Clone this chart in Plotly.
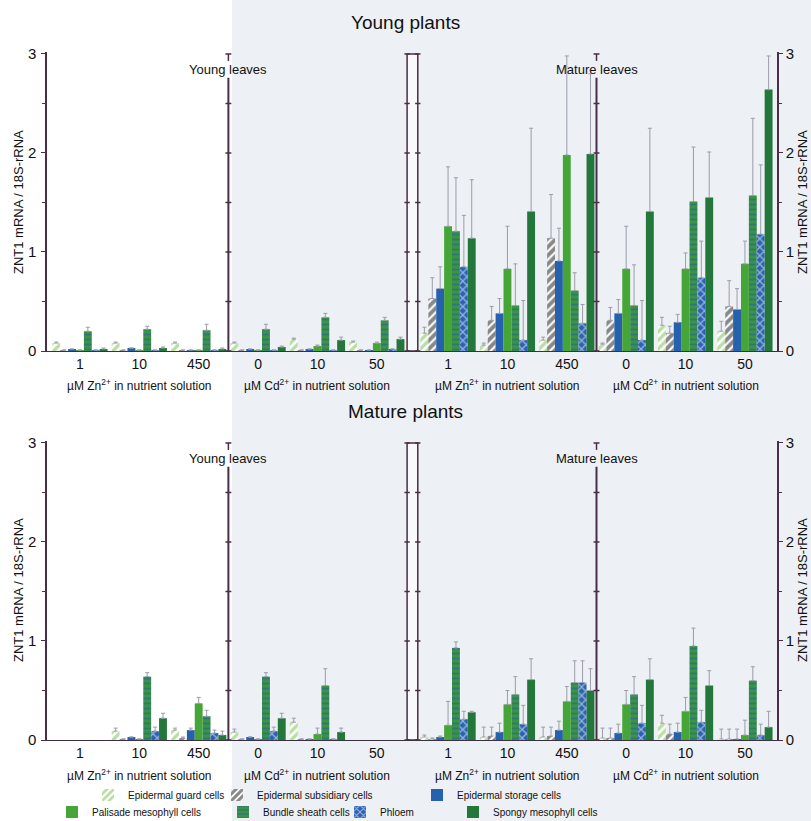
import plotly.graph_objects as go

# ---------------- data ----------------
GROUP_LABELS = ["1", "10", "450", "0", "10", "50", "1", "10", "450", "0", "10", "50"]
CONC_LABELS = ["µM Zn<sup>2+</sup> in nutrient solution", "µM Cd<sup>2+</sup> in nutrient solution",
               "µM Zn<sup>2+</sup> in nutrient solution", "µM Cd<sup>2+</sup> in nutrient solution"]
SERIES = ["Epidermal guard cells", "Epidermal subsidiary cells", "Epidermal storage cells",
          "Palisade mesophyll cells", "Bundle sheath cells", "Phloem", "Spongy mesophyll cells"]

# Young plants (top row): young leaves Zn(1,10,450), Cd(0,10,50); mature leaves Zn, Cd
YP_GUARD = [0.08, 0.08, 0.08, 0.08, 0.12, 0.09, 0.18, 0.06, 0.11, 0.07, 0.26, 0.20]
YP_GUARD_ERR = [0.01, 0.01, 0.01, 0.01, 0.01, 0.01, 0.06, 0.02, 0.03, 0.01, 0.08, 0.10]
YP_SUBS = [0.01, 0.01, 0.01, 0.01, 0.01, 0.01, 0.53, 0.31, 1.14, 0.31, 0.18, 0.45]
YP_SUBS_ERR = [0, 0, 0, 0, 0, 0, 0.21, 0.14, 0.44, 0.13, 0.07, 0.26]
YP_STOR = [0.02, 0.03, 0.01, 0.02, 0.02, 0.01, 0.63, 0.38, 0.91, 0.38, 0.29, 0.42]
YP_STOR_ERR = [0, 0, 0, 0, 0, 0, 0.22, 0.15, 0.33, 0.14, 0.08, 0.21]
YP_PALI = [0.01, 0.01, 0.01, 0.01, 0.05, 0.08, 1.26, 0.83, 1.98, 0.83, 0.83, 0.88]
YP_PALI_ERR = [0, 0, 0, 0, 0.01, 0.01, 0.60, 0.43, 1.00, 0.43, 0.16, 0.23]
YP_BUND = [0.20, 0.22, 0.21, 0.22, 0.34, 0.31, 1.21, 0.46, 0.61, 0.46, 1.51, 1.57]
YP_BUND_ERR = [0.04, 0.03, 0.06, 0.05, 0.04, 0.03, 0.54, 0.42, 0.18, 0.41, 0.55, 0.78]
YP_PHLO = [0.01, 0.01, 0.01, 0.01, 0.01, 0.02, 0.85, 0.11, 0.28, 0.11, 0.74, 1.18]
YP_PHLO_ERR = [0, 0, 0, 0, 0, 0, 0.52, 0.40, 0.19, 0.40, 0.37, 0.70]
YP_SPON = [0.02, 0.03, 0.02, 0.04, 0.11, 0.12, 1.14, 1.41, 1.99, 1.41, 1.55, 2.64]
YP_SPON_ERR = [0.01, 0.01, 0.01, 0.01, 0.03, 0.02, 0.59, 0.84, 0.81, 0.84, 0.46, 0.34]

# Mature plants (bottom row)
MP_GUARD = [None, 0.09, 0.10, 0.08, 0.18, None, 0.03, 0.03, 0.03, 0.02, 0.17, 0.01]
MP_GUARD_ERR = [None, 0.03, 0.02, 0.03, 0.04, None, 0.02, 0.10, 0.10, 0.10, 0.08, 0.10]
MP_SUBS = [None, 0.01, 0.02, 0.01, 0.01, None, 0.01, 0.04, 0.04, 0.02, 0.06, 0.01]
MP_SUBS_ERR = [None, 0, 0.01, 0, 0, None, 0.01, 0.09, 0.09, 0.10, 0.10, 0.10]
MP_STOR = [None, 0.03, 0.10, 0.03, 0.01, None, 0.03, 0.08, 0.10, 0.07, 0.08, 0.01]
MP_STOR_ERR = [None, 0, 0.02, 0, 0, None, 0.01, 0.09, 0.09, 0.09, 0.09, 0.10]
MP_PALI = [None, 0.01, 0.37, 0.01, 0.06, None, 0.15, 0.36, 0.39, 0.36, 0.29, 0.05]
MP_PALI_ERR = [None, 0, 0.06, 0, 0.06, None, 0.24, 0.14, 0.15, 0.14, 0.14, 0.15]
MP_BUND = [None, 0.64, 0.24, 0.64, 0.55, None, 0.93, 0.46, 0.58, 0.46, 0.95, 0.60]
MP_BUND_ERR = [None, 0.04, 0.06, 0.04, 0.17, None, 0.06, 0.18, 0.22, 0.18, 0.18, 0.14]
MP_PHLO = [None, 0.09, 0.07, 0.09, 0.01, None, 0.21, 0.16, 0.58, 0.17, 0.18, 0.05]
MP_PHLO_ERR = [None, 0.04, 0.03, 0.04, 0, None, 0.08, 0.19, 0.22, 0.18, 0.12, 0.11]
MP_SPON = [None, 0.22, 0.05, 0.22, 0.08, None, 0.28, 0.61, 0.50, 0.61, 0.55, 0.13]
MP_SPON_ERR = [None, 0.05, 0.04, 0.05, 0.04, None, 0.01, 0.21, 0.22, 0.21, 0.15, 0.16]

ROWS = [
    [(YP_GUARD, YP_GUARD_ERR), (YP_SUBS, YP_SUBS_ERR), (YP_STOR, YP_STOR_ERR), (YP_PALI, YP_PALI_ERR),
     (YP_BUND, YP_BUND_ERR), (YP_PHLO, YP_PHLO_ERR), (YP_SPON, YP_SPON_ERR)],
    [(MP_GUARD, MP_GUARD_ERR), (MP_SUBS, MP_SUBS_ERR), (MP_STOR, MP_STOR_ERR), (MP_PALI, MP_PALI_ERR),
     (MP_BUND, MP_BUND_ERR), (MP_PHLO, MP_PHLO_ERR), (MP_SPON, MP_SPON_ERR)],
]

# ---------------- styles ----------------
FONT = "Arial, Liberation Sans, sans-serif"
NARROW = "Liberation Sans Narrow, Arial Narrow, Liberation Sans, Arial, sans-serif"
AXC = "#4a2d48"
STYLES = [
    dict(color="#ffffff", pattern=dict(shape="/", fgcolor="#74bd45", bgcolor="#ffffff", size=6, solidity=0.55)),
    dict(color="#ffffff", pattern=dict(shape="/", fgcolor="#111111", bgcolor="#ffffff", size=6, solidity=0.65)),
    dict(color="#2561ad"),
    dict(color="#46a537"),
    dict(color="#3a9444", pattern=dict(shape="-", fgcolor="#2458aa", bgcolor="#3a9444", size=5, solidity=0.35)),
    dict(color="#2a63b4", pattern=dict(shape="x", fgcolor="#ffffff", bgcolor="#2a63b4", size=6, solidity=0.4)),
    dict(color="#23773a"),
]
LEG_POS = [(88, 795), (217, 795), (417, 795), (52, 812), (223, 812), (340, 812), (453, 812)]

W, H = 811, 821
pos = [i + (0.2 if i >= 6 else 0.0) for i in range(12)]
XR = [-0.555, 11.74]

fig = go.Figure()
for r, row in enumerate(ROWS):
    xa = "x" if r == 0 else "x2"
    ya = "y" if r == 0 else "y2"
    for s, (vals, errs) in enumerate(row):
        st = STYLES[s]
        mk = dict(color=st["color"], line=dict(width=0))
        if "pattern" in st:
            mk["pattern"] = st["pattern"]
        fig.add_trace(go.Bar(
            x=pos, y=vals, name=SERIES[s], marker=mk, xaxis=xa, yaxis=ya,
            showlegend=(r == 0), legend=("legend" if s == 0 else f"legend{s+1}"),
            error_y=dict(type="data", array=errs, arrayminus=[0] * 12, symmetric=False,
                         color="#9c9cab", thickness=1, width=2),
        ))

# ---------------- layout ----------------
xd = [47 / W, 777 / W]
yd1 = [1 - 351 / H, 1 - 52 / H]
yd2 = [1 - 740 / H, 1 - 441 / H]

def xaxis(anchor):
    return dict(domain=xd, range=XR, anchor=anchor, showgrid=False, zeroline=False,
                showline=True, linecolor="#3b3040", linewidth=1.2, ticks="",
                tickvals=pos, ticktext=GROUP_LABELS, tickfont=dict(family=FONT, size=14, color="#111"))

def yaxis(domain, anchor, side="left", overlay=None):
    d = dict(domain=domain, range=[0, 3.02], anchor=anchor, side=side, showgrid=False, zeroline=False,
             showline=True, linecolor=AXC, linewidth=1.5, ticks="outside", ticklen=4, tickcolor=AXC,
             tickvals=[0, 1, 2, 3], tickfont=dict(family=FONT, size=15, color="#111"),
             minor=dict(ticks="outside", dtick=0.5, ticklen=3, tickcolor=AXC),
             ticklabelstandoff=(2 if side == "left" else 0))
    if overlay:
        d["overlaying"] = overlay
    return d

layout = dict(
    width=W, height=H, margin=dict(l=0, r=0, t=0, b=0, autoexpand=False),
    paper_bgcolor="#ffffff", plot_bgcolor="rgba(0,0,0,0)",
    barmode="group", bargap=0.07, bargroupgap=0,
    xaxis=xaxis("y"), xaxis2=xaxis("y2"),
    yaxis=yaxis(yd1, "x"), yaxis2=yaxis(yd2, "x2"),
    yaxis3=yaxis(yd1, "x", "right", "y"), yaxis4=yaxis(yd2, "x2", "right", "y2"),
    font=dict(family=FONT, color="#111"),
)
for s, (lx, ly) in enumerate(LEG_POS):
    key = "legend" if s == 0 else f"legend{s+1}"
    layout[key] = dict(x=lx / W, y=1 - ly / H, xanchor="left", yanchor="middle",
                       bgcolor="rgba(0,0,0,0)", borderwidth=0, orientation="h",
                       font=dict(family=NARROW, size=10, color="#111"))
fig.update_layout(**layout)

# phantom traces so right-hand axes are drawn
for ya, xa in (("y3", "x"), ("y4", "x2")):
    fig.add_trace(go.Scatter(x=[None], y=[None], xaxis=xa, yaxis=ya, showlegend=False, hoverinfo="skip"))

shapes = []
# scanned-page tint
shapes.append(dict(type="rect", xref="paper", yref="paper", x0=232 / W, x1=1, y0=0, y1=1,
                   fillcolor="#edf0f4", line=dict(width=0), layer="below"))
young_div = (pos[2] + pos[3]) / 2
mid_div = (pos[5] + pos[6]) / 2
mature_div = (pos[8] + pos[9]) / 2
ticks_y = [0.5 * k for k in range(7)]
for r in range(2):
    xa = "x" if r == 0 else "x2"
    ya = "y" if r == 0 else "y2"
    for dx in (young_div, mature_div):
        shapes.append(dict(type="line", xref=xa, yref=ya, x0=dx, x1=dx, y0=0, y1=2.76,
                           line=dict(color=AXC, width=2)))
        shapes.append(dict(type="line", xref=xa, yref=ya, x0=dx, x1=dx, y0=2.93, y1=3,
                           line=dict(color=AXC, width=1.5)))
        shapes.append(dict(type="line", xref=xa, yref=ya, x0=dx - 0.05, x1=dx + 0.05, y0=3, y1=3,
                           line=dict(color=AXC, width=1.5)))
        for ty in ticks_y[:-1]:
            shapes.append(dict(type="line", xref=xa, yref=ya, x0=dx - 0.05, x1=dx + 0.05, y0=ty, y1=ty,
                               line=dict(color=AXC, width=1.5)))
    shapes.append(dict(type="rect", xref=xa, yref=ya, x0=mid_div - 0.09, x1=mid_div + 0.09, y0=0, y1=3,
                       line=dict(color=AXC, width=1.5), fillcolor="rgba(255,255,255,0.6)"))
    for ty in ticks_y:
        for ex in (mid_div - 0.09, mid_div + 0.09):
            shapes.append(dict(type="line", xref=xa, yref=ya, x0=ex - 0.045, x1=ex + 0.045, y0=ty, y1=ty,
                               line=dict(color=AXC, width=1.5)))
fig.update_layout(shapes=shapes)

ann = []
ann.append(dict(text="Young plants", x=405 / W, y=1 - 22 / H, xref="paper", yref="paper",
                xanchor="center", yanchor="middle",
                showarrow=False, font=dict(family=FONT, size=19, color="#111")))
ann.append(dict(text="Mature plants", x=405 / W, y=1 - 411 / H, xref="paper", yref="paper",
                xanchor="center", yanchor="middle",
                showarrow=False, font=dict(family=FONT, size=19, color="#111")))
for r in range(2):
    xa = "x" if r == 0 else "x2"
    ya = "y" if r == 0 else "y2"
    ann.append(dict(text="Young leaves", x=young_div, y=2.84, xref=xa, yref=ya, showarrow=False,
                    xanchor="center", yanchor="middle", font=dict(family=FONT, size=13, color="#111")))
    ann.append(dict(text="Mature leaves", x=mature_div, y=2.84, xref=xa, yref=ya, showarrow=False,
                    xanchor="center", yanchor="middle", font=dict(family=FONT, size=13, color="#111")))
    ly = 385 if r == 0 else 775
    for k, lab in enumerate(CONC_LABELS):
        ann.append(dict(text=lab, x=pos[3 * k + 1], y=1 - ly / H, xref=xa, yref="paper", showarrow=False,
                        xanchor="center", yanchor="middle", font=dict(family=NARROW, size=12, color="#111")))
    cy = 1 - (202 if r == 0 else 590) / H
    for tx in (18, 802):
        ann.append(dict(text="ZNT1 mRNA / 18S-rRNA", x=tx / W, y=cy, xref="paper", yref="paper",
                        xanchor="center", yanchor="middle",
                        showarrow=False, textangle=-90, font=dict(family=FONT, size=13, color="#111")))
fig.update_layout(annotations=ann)

fig.write_html("out.html")
